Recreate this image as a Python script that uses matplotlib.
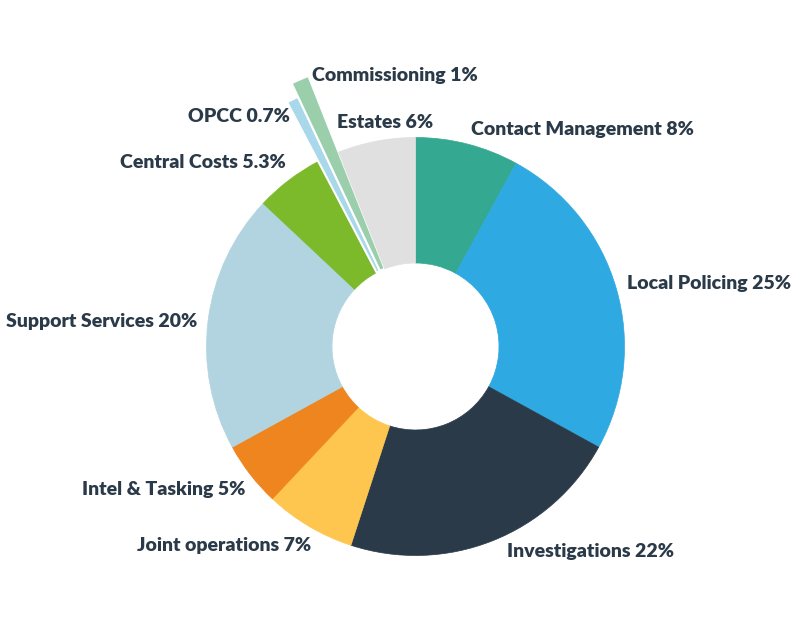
import numpy as np
import matplotlib.pyplot as plt
from matplotlib.patches import Wedge

# budget split, clockwise from 12 o'clock
labels = ["Contact Management", "Local Policing", "Investigations", "Joint operations",
          "Intel & Tasking", "Support Services", "Central Costs", "OPCC",
          "Commissioning", "Estates"]
shares = [8, 25, 22, 7, 5, 20, 5.3, 0.7, 1, 6]
pct_text = ["8%", "25%", "22%", "7%", "5%", "20%", "5.3%", "0.7%", "1%", "6%"]

colors = ["#34a891", "#2ea9e1", "#2b3a48", "#fec64f", "#ee851f",
          "#b1d4e0", "#7cb92b", "#a9d8ea", "#9bcfab", "#e0e0e0"]

# geometry in pixels (figure is 800x640, y measured upward)
cx, cy = 415.5, 640 - 346.5
r_out, r_in = 209, 83.5
r_big = {"OPCC": 276, "Commissioning": 291}

# label anchor (left edge x, centre y in image pixels)
label_pos = {
    "Contact Management": (471, 129),
    "Local Policing": (627, 283),
    "Investigations": (507, 552),
    "Joint operations": (137, 546),
    "Intel & Tasking": (82, 489),
    "Support Services": (6, 322),
    "Central Costs": (120, 163),
    "OPCC": (188, 117),
    "Commissioning": (312, 76),
    "Estates": (337, 122),
}

fig = plt.figure(figsize=(8, 6.4), dpi=100)
ax = fig.add_axes([0, 0, 1, 1])
ax.set_xlim(0, 800)
ax.set_ylim(0, 640)
ax.set_aspect("equal")
ax.axis("off")

total = float(np.sum(shares))
cum = np.concatenate([[0], np.cumsum(shares)]) / total
for i, lab in enumerate(labels):
    t1 = 90 - 360 * cum[i + 1]
    t2 = 90 - 360 * cum[i]
    R = r_big.get(lab, r_out)
    thin = lab in r_big
    ax.add_patch(Wedge((cx, cy), R, t1, t2, width=R - r_in,
                       facecolor=colors[i],
                       edgecolor="white" if thin else colors[i],
                       linewidth=1.5 if thin else 0.5))

for lab, p in zip(labels, pct_text):
    x, y = label_pos[lab]
    ax.text(x, 640 - y, f"{lab} {p}", ha="left", va="center",
            fontsize=14, fontweight="heavy", family="Lato", color="#2b3a48")

fig.savefig("out.png", dpi=100, facecolor="white")
